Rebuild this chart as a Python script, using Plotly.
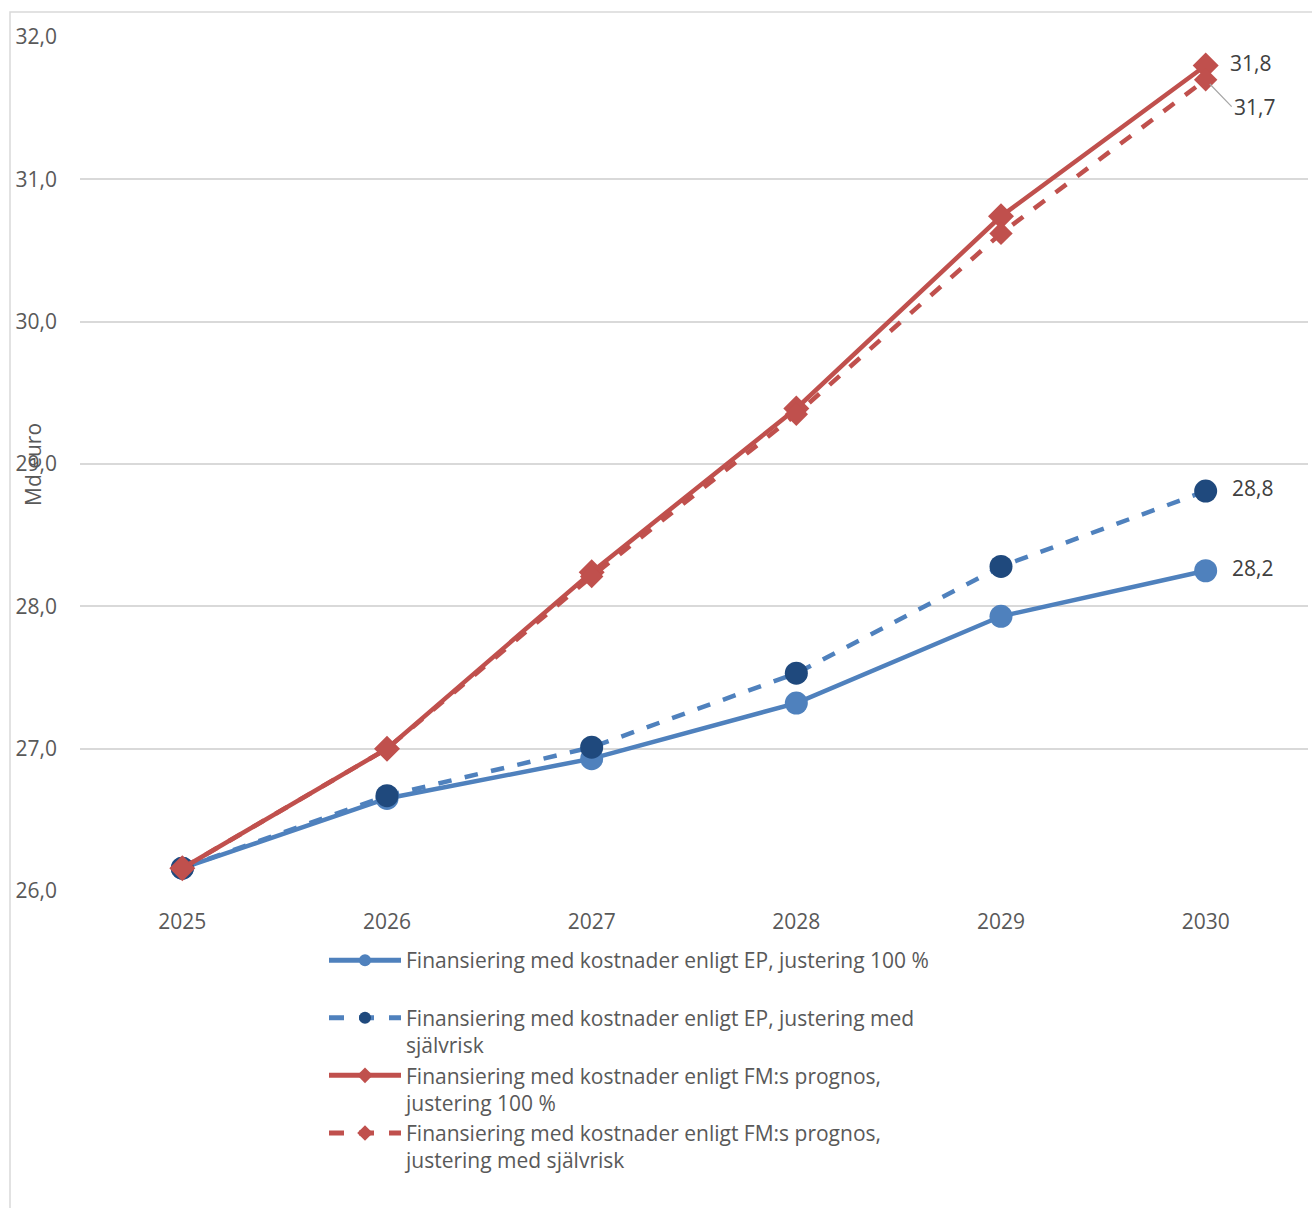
import plotly.graph_objects as go

years = ["2025", "2026", "2027", "2028", "2029", "2030"]
ep_100 = [26.16, 26.65, 26.93, 27.32, 27.93, 28.25]
ep_sjalvrisk = [26.16, 26.67, 27.01, 27.53, 28.28, 28.81]
fm_100 = [26.16, 27.00, 28.24, 29.39, 30.74, 31.80]
fm_sjalvrisk = [26.16, 27.00, 28.21, 29.35, 30.62, 31.70]

names = [
    "Finansiering med kostnader enligt EP, justering 100 %<br> ",
    "Finansiering med kostnader enligt EP, justering med<br>självrisk",
    "Finansiering med kostnader enligt FM:s prognos,<br>justering 100 %",
    "Finansiering med kostnader enligt FM:s prognos,<br>justering med självrisk",
]

def fmt(v):
    return f"{v:.1f}".replace(".", ",")

def last_label(vals):
    return [""] * (len(vals) - 1) + ["\u00a0\u00a0" + fmt(vals[-1])]

BLUE = "#4F81BD"
NAVY = "#1F497D"
RED = "#C0504D"
LABEL = "#404040"
FONT = "Open Sans"
FS = 21

fig = go.Figure()
fig.add_trace(go.Scatter(
    x=years, y=ep_100, name=names[0], mode="lines+markers+text",
    line=dict(color=BLUE, width=4.5),
    marker=dict(symbol="circle", size=23, color=BLUE),
    text=last_label(ep_100), textposition="middle right",
    textfont=dict(size=FS, color=LABEL, family=FONT), legendgroup="a"))
fig.add_trace(go.Scatter(
    x=years, y=ep_sjalvrisk, name=names[1], mode="lines+markers+text",
    line=dict(color=BLUE, width=4.5, dash="dash"),
    marker=dict(symbol="circle", size=23, color=NAVY),
    text=last_label(ep_sjalvrisk), textposition="middle right",
    textfont=dict(size=FS, color=LABEL, family=FONT), legendgroup="b"))
fig.add_trace(go.Scatter(
    x=years, y=fm_100, name=names[2], mode="lines+markers+text",
    line=dict(color=RED, width=4.5),
    marker=dict(symbol="diamond", size=20, color=RED),
    text=last_label(fm_100), textposition="middle right",
    textfont=dict(size=FS, color=LABEL, family=FONT), legendgroup="c"))
fig.add_trace(go.Scatter(
    x=years, y=fm_sjalvrisk, name=names[3], mode="lines+markers",
    line=dict(color=RED, width=4.5, dash="dash"),
    marker=dict(symbol="diamond", size=18, color=RED),
    legendgroup="d"))

# leader-line label for the dashed red series
fig.add_annotation(
    x=len(years) - 1, y=fm_sjalvrisk[-1],
    text=fmt(fm_sjalvrisk[-1]),
    showarrow=True, arrowhead=0, arrowcolor="#A6A6A6", arrowwidth=1.2,
    ax=26, ay=27, xanchor="left", yanchor="middle", standoff=6,
    font=dict(size=FS, color=LABEL, family=FONT))

fig.add_annotation(
    xref="paper", yref="paper", x=(33 - 80) / 1228, y=0.5,
    text="Md euro", textangle=-90, showarrow=False,
    xanchor="center", yanchor="middle",
    font=dict(size=FS, color="#595959", family=FONT))

# chart frame
fig.add_shape(type="rect", xref="paper", yref="paper",
              x0=(10 - 80) / 1228, x1=1.05, y0=-0.5, y1=(891 - 12) / 854,
              line=dict(color="#D9D9D9", width=1.5), fillcolor="rgba(0,0,0,0)",
              layer="below")

fig.update_layout(
    width=1312, height=1208,
    margin=dict(l=80, r=4, t=37, b=317),
    paper_bgcolor="white", plot_bgcolor="white",
    font=dict(family=FONT, color="#595959", size=FS),
    showlegend=True,
    legend=dict(
        x=(324 - 80) / 1228, y=(891 - 940) / 854, xanchor="left", yanchor="top",
        orientation="v", itemwidth=72, valign="top", tracegroupgap=0,
        font=dict(size=FS, color="#595959", family=FONT),
        bgcolor="rgba(0,0,0,0)", itemsizing="constant", traceorder="normal",
    ),
    xaxis=dict(
        type="category", showgrid=False, showline=False, ticks="",
        tickfont=dict(size=FS, color="#595959"), ticklabelstandoff=16,
        range=[-0.5, 5.5],
    ),
    yaxis=dict(
        range=[26, 32], dtick=1, tickformat=".1f",
        showgrid=True, gridcolor="#D9D9D9", gridwidth=1.5,
        zeroline=False, showline=False, ticks="",
        tickfont=dict(size=FS, color="#595959"), ticklabelstandoff=22,
    ),
    separators=", ",
)

fig.write_html("out.html")
